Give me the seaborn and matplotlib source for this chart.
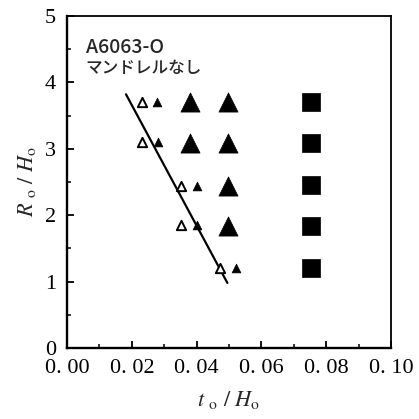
import matplotlib
matplotlib.use("Agg")
import matplotlib.pyplot as plt
from matplotlib.ticker import MultipleLocator, FixedLocator
import seaborn as sns
import pandas as pd

# Wall thickness ratio t0/H0 and bend radius ratio R0/H0 for each outcome
open_tri_t = [0.023, 0.023, 0.0352, 0.0352, 0.0472]
open_tri_r = [3.70, 3.10, 2.44, 1.85, 1.20]
small_tri_t = [0.0278, 0.0281, 0.0400, 0.0400, 0.0522]
small_tri_r = [3.70, 3.10, 2.44, 1.85, 1.20]
big_tri_t = [0.0379, 0.0379, 0.0498, 0.0498, 0.0498, 0.0498]
big_tri_r = [3.70, 3.08, 3.70, 3.08, 2.44, 1.83]
square_t = [0.0752, 0.0752, 0.0752, 0.0752, 0.0752]
square_r = [3.70, 3.08, 2.45, 1.83, 1.20]

# Boundary line between the regions
line_t = [0.0182, 0.0495]
line_r = [3.82, 0.98]

x_ticks = [0.00, 0.02, 0.04, 0.06, 0.08, 0.10]
x_tick_labels = ["0. 00", "0. 02", "0. 04", "0. 06", "0. 08", "0. 10"]
y_ticks = [0, 1, 2, 3, 4, 5]

sns.set_theme(style="ticks")
plt.rcParams["font.family"] = ["Liberation Serif", "DejaVu Serif"]
plt.rcParams["mathtext.fontset"] = "stix"

fig = plt.figure(figsize=(4.19, 4.19), dpi=100)
ax = fig.add_axes([0.16, 0.1695, 0.773, 0.7925])

line_df = pd.DataFrame({"t": line_t, "r": line_r})
sns.lineplot(data=line_df, x="t", y="r", ax=ax, color="black", lw=1.6,
             sort=False, legend=False)

sns.scatterplot(x=open_tri_t, y=open_tri_r, ax=ax, marker="^", s=45,
                facecolor="white", edgecolor="black", linewidth=1.4, zorder=3)
sns.scatterplot(x=small_tri_t, y=small_tri_r, ax=ax, marker="^", s=40,
                color="black", edgecolor="black", linewidth=0.5, zorder=3)
sns.scatterplot(x=big_tri_t, y=big_tri_r, ax=ax, marker="^", s=190,
                color="black", edgecolor="black", linewidth=0.5, zorder=3)
sns.scatterplot(x=square_t, y=square_r, ax=ax, marker="s", s=185,
                color="black", edgecolor="black", linewidth=0.5, zorder=3)

ax.set_xlim(0, 0.10)
ax.set_ylim(0, 5)
ax.xaxis.set_major_locator(FixedLocator(x_ticks))
ax.set_xticklabels(x_tick_labels)
ax.yaxis.set_major_locator(FixedLocator(y_ticks))
ax.xaxis.set_minor_locator(MultipleLocator(0.01))
ax.yaxis.set_minor_locator(MultipleLocator(0.5))
ax.tick_params(which="both", direction="in", top=False, right=False,
               colors="black", labelsize=16, pad=8)
ax.tick_params(which="major", length=5, width=1.3)
ax.tick_params(which="minor", length=3, width=1.1)

for side, sp in ax.spines.items():
    sp.set_color("black")
    sp.set_linewidth(1.7 if side in ("left", "bottom") else 1.3)

ax.set_xlabel(r"$t\ _{\rm o}\ /\ H_{\rm o}$", fontsize=16, labelpad=8)
ax.set_ylabel(r"$R\ _{\rm o}\ /\ H_{\rm o}$", fontsize=16, labelpad=5)

ax.text(0.058, 0.935, "A6063-O", transform=ax.transAxes, fontsize=14,
        fontweight="medium", family=["Noto Sans CJK JP", "DejaVu Sans"],
        va="top", ha="left")
ax.text(0.058, 0.87, "マンドレルなし", transform=ax.transAxes, fontsize=12,
        fontweight="medium", family=["Noto Sans CJK JP", "DejaVu Sans"],
        va="top", ha="left")

fig.savefig("out.png", dpi=100, facecolor="white")
